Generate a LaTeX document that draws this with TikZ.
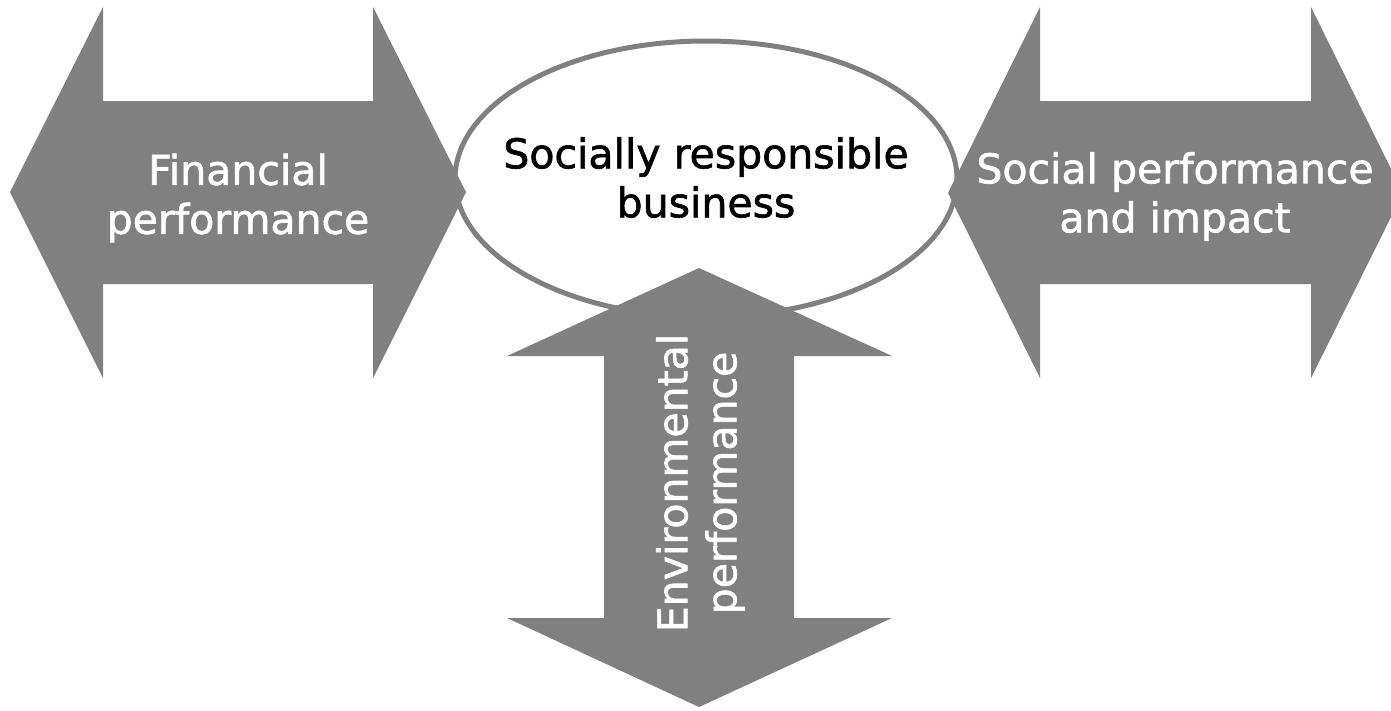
\documentclass[tikz,border=0pt]{standalone}
\usepackage{fontspec}
\setmainfont{DejaVu Sans}
\newfontfamily\lblfont{DejaVu Sans}[FakeBold=1.5]
\usetikzlibrary{shapes.geometric}
\definecolor{arrowgray}{HTML}{808080}
\begin{document}
\begin{tikzpicture}[x=1pt,y=-1pt,
  arrowshape/.style={fill=arrowgray, draw=none},
  lbl/.style={align=center, inner sep=0pt, font=\lblfont\fontsize{41}{49}\selectfont},
  whitelbl/.style={lbl, text=white}]
\useasboundingbox[fill=white] (0,0) rectangle (1391,710);
% central ellipse
\node[lbl, ellipse, draw=arrowgray, line width=5pt, fill=white,
      minimum width=502pt, minimum height=276pt, text=black] (srb) at (706,179) {};
\node[lbl, text=black] (srbtext) at (706,177.5) {Socially responsible\\business};
% left double arrow
\path[arrowshape] (10,192) -- (103,7) -- (103,101) -- (373,101) -- (373,7) -- (466,192)
  -- (373,378) -- (373,284) -- (103,284) -- (103,378) -- cycle;
\node[whitelbl] (fin) at (238,198) {Financial\\performance};
% right double arrow
\path[arrowshape] (948,193) -- (1040,7) -- (1040,101) -- (1311,101) -- (1311,7) -- (1403,193)
  -- (1311,378) -- (1311,284) -- (1040,284) -- (1040,378) -- cycle;
\node[whitelbl] (soc) at (1175,196.5) {Social performance\\and impact};
% vertical double arrow
\path[arrowshape] (699,268) -- (892,356) -- (794,356) -- (794,618) -- (892,618) -- (699,707)
  -- (507,618) -- (604,618) -- (604,356) -- (507,356) -- cycle;
\node[whitelbl, rotate=90] (env) at (700.5,483) {Environmental\\performance};
\end{tikzpicture}
\end{document}
